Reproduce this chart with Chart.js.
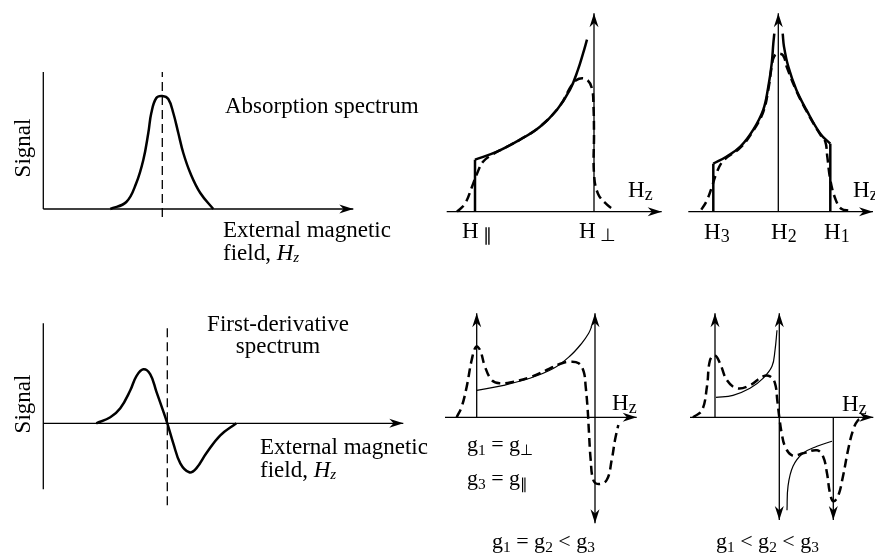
<!DOCTYPE html>
<html>
<head>
<meta charset="utf-8">
<script src="https://cdn.jsdelivr.net/npm/chart.js@4.4.0/dist/chart.umd.min.js"></script>
<style>
  body { margin: 0; background: #fff; }
  #wrap { position: relative; width: 875px; height: 555px; overflow: hidden;
          font-family: "Liberation Serif", "Times New Roman", serif; color: #000; }
  canvas { position: absolute; }
  .t { position: absolute; font-size: 23px; line-height: 23px; white-space: nowrap; }
  .g { font-size: 22px; line-height: 22px; }
  .sub { font-size: 0.78em; position: relative; top: 0.15em; }
  .gs { font-size: 0.7em; position: relative; top: 0.25em; }
  .rot { transform: translate(-50%, -50%) rotate(-90deg); }
</style>
</head>
<body>
<div id="wrap">
  <div class="t rot" style="left:22px; top:148px;">Signal</div>
  <div class="t" style="left:225px; top:94px;">Absorption spectrum</div>
  <div class="t" style="left:223px; top:218px;">External magnetic<br>field, <i>H</i><span class="sub" style="font-size:0.65em"><i>z</i></span></div>

  <div class="t rot" style="left:22px; top:404px;">Signal</div>
  <div class="t" style="left:278px; top:313px; line-height:22px; text-align:center; transform:translateX(-50%);">First-derivative<br>spectrum</div>
  <div class="t" style="left:260px; top:436px; line-height:22.5px;">External magnetic<br>field, <i>H</i><span class="sub" style="font-size:0.65em"><i>z</i></span></div>

  <div class="t" style="left:462px; top:219px;">H&thinsp;<span class="sub">∥</span></div>
  <div class="t" style="left:579px; top:219px;">H&thinsp;<span class="sub">⊥</span></div>
  <div class="t" style="left:628px; top:178px;">H<span class="sub">z</span></div>

  <div class="t" style="left:704px; top:220px;">H<span class="sub">3</span></div>
  <div class="t" style="left:771px; top:220px;">H<span class="sub">2</span></div>
  <div class="t" style="left:824px; top:220px;">H<span class="sub">1</span></div>
  <div class="t" style="left:853px; top:178px;">H<span class="sub">z</span></div>

  <div class="t" style="left:612px; top:391px;">H<span class="sub">z</span></div>
  <div class="t g" style="left:467px; top:433px;">g<span class="gs">1</span> = g<span class="gs">⊥</span></div>
  <div class="t g" style="left:467px; top:467px;">g<span class="gs">3</span> = g<span class="gs">∥</span></div>
  <div class="t g" style="left:492px; top:530px;">g<span class="gs">1</span> = g<span class="gs">2</span> &lt; g<span class="gs">3</span></div>

  <div class="t" style="left:842px; top:392px;">H<span class="sub">z</span></div>
  <div class="t g" style="left:716px; top:530px;">g<span class="gs">1</span> &lt; g<span class="gs">2</span> &lt; g<span class="gs">3</span></div>
</div>

<script>
// Espectro de absorção (painel superior esquerdo)
const absField  = [67, 83, 93, 100, 105, 108, 113, 119, 125, 130, 135, 140, 147, 157, 170];
const absSignal = [0, 7, 26, 49, 76, 96, 111, 113, 110, 96, 76, 56, 36, 16, 0];
const absCentre = 119;

// Espectro da primeira derivada (painel inferior esquerdo)
const derField  = [53, 67, 77, 87, 93, 100, 107, 113, 120, 124, 130, 137, 146, 153, 163, 177, 193];
const derSignal = [0, 6, 15, 33, 47, 54, 49, 32, 12, 0, -20, -40, -49, -45, -30, -12, 0];
const derCentre = 124;

// Axial: absorção (superior centro)
const axEdgeX  = [0, 0];
const axEdgeY  = [0, 52];
const axSolidX = [0, 22, 45, 65, 82, 95, 103, 108, 112];
const axSolidY = [52, 60, 72, 85, 102, 122, 142, 158, 172];
const axDashX  = [-18, -10, -3, 2, 8, 17, 30, 45, 65, 85, 97, 104, 112, 117, 118.5, 119, 119, 123, 132, 140];
const axDashY  = [0, 8, 25, 38, 50, 57, 64, 72, 85, 106, 127, 133, 132, 123, 105, 78, 38, 18, 7, 1];

// Rômbico: absorção (superior direito)
const rhEdge3X = [-65, -65];
const rhEdge3Y = [0, 48];
const rhEdge1X = [52, 52];
const rhEdge1Y = [0, 68];
const rhLeftX  = [-65, -52, -38, -25, -15, -10, -6.6, -5, -4];
const rhLeftY  = [48, 55, 65, 82, 102, 125, 148, 168, 178];
const rhRightX = [4.4, 5.7, 10, 18, 28, 42, 52];
const rhRightY = [178, 165, 145, 122, 102, 78, 68];
const rhDashX  = [-77, -72, -67, -62, -55, -38, -25, -15, -10, -6.6, -4.3, 0, 5, 8.4, 18, 28, 42, 47, 49, 52, 57, 63, 72];
const rhDashY  = [2, 10, 23, 38, 51, 64, 81, 100, 122, 145, 155, 158, 156, 145, 121, 101, 77, 70, 55, 32, 13, 3, 1];

// Axial: derivada (inferior centro)
const axDerSolidX = [0, 27, 53, 77, 93, 105, 112, 115];
const axDerSolidY = [27, 32, 39, 49, 61, 74, 84, 91];
const axDerDashX  = [-20, -15, -10, -5, -0.7, 3.3, 8.3, 15, 23, 37, 53, 70, 83, 93, 102, 107, 109, 111, 112.3, 114, 116.6, 121.6, 130, 135, 138.3, 141.6];
const axDerDashY  = [0, 10.6, 30.6, 57.3, 70.6, 67.3, 50.6, 37.3, 34, 35.6, 40, 47.3, 53.3, 55.6, 54, 45.6, 30.6, 7.3, -16, -42.7, -62.7, -66.7, -62.7, -42.7, -22.7, -7.7];

// Rômbico: derivada (inferior direito)
const rhDerUpperX = [1, 18, 35, 48, 57, 60, 62];
const rhDerUpperY = [20, 22, 29, 39, 51, 67, 87];
const rhDerLowerX = [72, 73, 78, 88, 102, 117];
const rhDerLowerY = [-93, -69, -49, -36, -29, -24];
const rhDerDashX  = [-22, -13, -8, -5, 0, 5, 12, 22, 35, 48, 55, 60, 62.3, 64.3, 66.7, 70, 77, 88, 102, 108, 112, 115, 118.3, 123, 128, 133, 138, 143, 148];
const rhDerDashY  = [0, 7, 31, 57, 62, 54, 37, 29, 32, 41, 41, 34, 17, 0, -16, -29, -38, -36, -33, -39, -56, -76, -84, -79, -59, -33, -13, -3, -1];

function zip(xs, ys) {
    return xs.map((x, i) => ({ x: x, y: ys[i] }));
}

function linha(xs, ys, largura, tracejado, tensao) {
    return {
        data: zip(xs, ys),
        showLine: true,
        borderColor: '#000',
        borderWidth: largura,
        borderDash: tracejado ? [9, 5] : [],
        pointRadius: 0,
        tension: tensao,
        fill: false
    };
}

// ponta de seta (ponta em x2,y2)
function ponta(ctx, x1, y1, x2, y2) {
    const len = Math.hypot(x2 - x1, y2 - y1);
    const dx = (x2 - x1) / len, dy = (y2 - y1) / len;
    const L = 14, W = 4.5;
    ctx.beginPath();
    ctx.moveTo(x2, y2);
    ctx.lineTo(x2 - dx * L - dy * W, y2 - dy * L + dx * W);
    ctx.lineTo(x2 - dx * L * 0.7, y2 - dy * L * 0.7);
    ctx.lineTo(x2 - dx * L + dy * W, y2 - dy * L - dx * W);
    ctx.closePath();
    ctx.fill();
}

const eixosSeta = {
    id: 'eixosSeta',
    beforeDatasetsDraw(chart, args, opts) {
        const ctx = chart.ctx;
        const sx = chart.scales.x, sy = chart.scales.y;
        ctx.save();
        ctx.strokeStyle = '#000';
        ctx.fillStyle = '#000';
        ctx.lineWidth = 1.3;
        (opts.axes || []).forEach(a => {
            const x1 = sx.getPixelForValue(a.from[0]), y1 = sy.getPixelForValue(a.from[1]);
            const x2 = sx.getPixelForValue(a.to[0]), y2 = sy.getPixelForValue(a.to[1]);
            ctx.beginPath();
            ctx.moveTo(x1, y1);
            ctx.lineTo(x2, y2);
            ctx.stroke();
            if (a.head >= 1) ponta(ctx, x1, y1, x2, y2);
            if (a.head === 2) ponta(ctx, x2, y2, x1, y1);
        });
        ctx.restore();
    }
};

const paineis = [
    {   // absorção
        box: [0, 60, 360, 170], origin: [43.3, 209],
        axes: [{ from: [0, 0], to: [0, 137], head: 0 }, { from: [0, 0], to: [310, 0], head: 1 }],
        datasets: [
            linha([absCentre, absCentre], [-8, 137], 1.3, true, 0),
            linha(absField, absSignal, 2.5, false, 0.4)
        ]
    },
    {   // primeira derivada
        box: [0, 310, 410, 200], origin: [43.3, 423.3],
        axes: [{ from: [0, -66], to: [0, 100], head: 0 }, { from: [0, 0], to: [360, 0], head: 1 }],
        datasets: [
            linha([derCentre, derCentre], [-82, 100], 1.3, true, 0),
            linha(derField, derSignal, 2.5, false, 0.4)
        ]
    },
    {   // axial absorção
        box: [440, 5, 225, 215], origin: [475, 211.7],
        axes: [{ from: [-28.3, 0], to: [186.7, 0], head: 1 }, { from: [119, 0], to: [119, 198.4], head: 1 }],
        datasets: [
            linha(axEdgeX, axEdgeY, 2.5, false, 0),
            linha(axSolidX, axSolidY, 2.5, false, 0.4),
            linha(axDashX, axDashY, 2.5, true, 0.4)
        ]
    },
    {   // rômbico absorção
        box: [680, 5, 195, 215], origin: [778.3, 211.7],
        axes: [{ from: [-90, 0], to: [94.7, 0], head: 1 }, { from: [0, 0], to: [0, 198.4], head: 1 }],
        datasets: [
            linha(rhEdge3X, rhEdge3Y, 2.5, false, 0),
            linha(rhEdge1X, rhEdge1Y, 2.5, false, 0),
            linha(rhLeftX, rhLeftY, 2.5, false, 0.4),
            linha(rhRightX, rhRightY, 2.5, false, 0.4),
            linha(rhDashX, rhDashY, 2.5, true, 0.4)
        ]
    },
    {   // axial derivada
        box: [440, 305, 205, 225], origin: [476.7, 417.3],
        axes: [
            { from: [-31.7, 0], to: [160, 0], head: 1 },
            { from: [0, 0], to: [0, 104], head: 1 },
            { from: [118.3, -106], to: [118.3, 104], head: 2 }
        ],
        datasets: [
            linha(axDerSolidX, axDerSolidY, 1.2, false, 0.4),
            linha(axDerDashX, axDerDashY, 2.5, true, 0.4)
        ]
    },
    {   // rômbico derivada
        box: [680, 305, 195, 225], origin: [715, 417.3],
        axes: [
            { from: [-25, 0], to: [158.3, 0], head: 1 },
            { from: [0, 0], to: [0, 104], head: 1 },
            { from: [64.3, -102.7], to: [64.3, 104], head: 2 },
            { from: [118.3, 0], to: [118.3, -102.7], head: 1 }
        ],
        datasets: [
            linha(rhDerUpperX, rhDerUpperY, 1.2, false, 0.4),
            linha(rhDerLowerX, rhDerLowerY, 1.2, false, 0.4),
            linha(rhDerDashX, rhDerDashY, 2.5, true, 0.4)
        ]
    }
];

const wrap = document.getElementById('wrap');
paineis.forEach(p => {
    const [left, top, w, h] = p.box;
    const [ox, oy] = p.origin;
    const canvas = document.createElement('canvas');
    canvas.width = w;
    canvas.height = h;
    canvas.style.left = left + 'px';
    canvas.style.top = top + 'px';
    canvas.style.width = w + 'px';
    canvas.style.height = h + 'px';
    wrap.insertBefore(canvas, wrap.firstChild);

    new Chart(canvas, {
        type: 'scatter',
        data: { datasets: p.datasets },
        options: {
            responsive: false,
            animation: false,
            layout: { padding: 0 },
            scales: {
                x: { type: 'linear', display: false, min: left - ox, max: left + w - ox },
                y: { type: 'linear', display: false, min: oy - (top + h), max: oy - top }
            },
            plugins: {
                legend: { display: false },
                tooltip: { enabled: false },
                eixosSeta: { axes: p.axes }
            }
        },
        plugins: [eixosSeta]
    });
});
</script>
</body>
</html>
